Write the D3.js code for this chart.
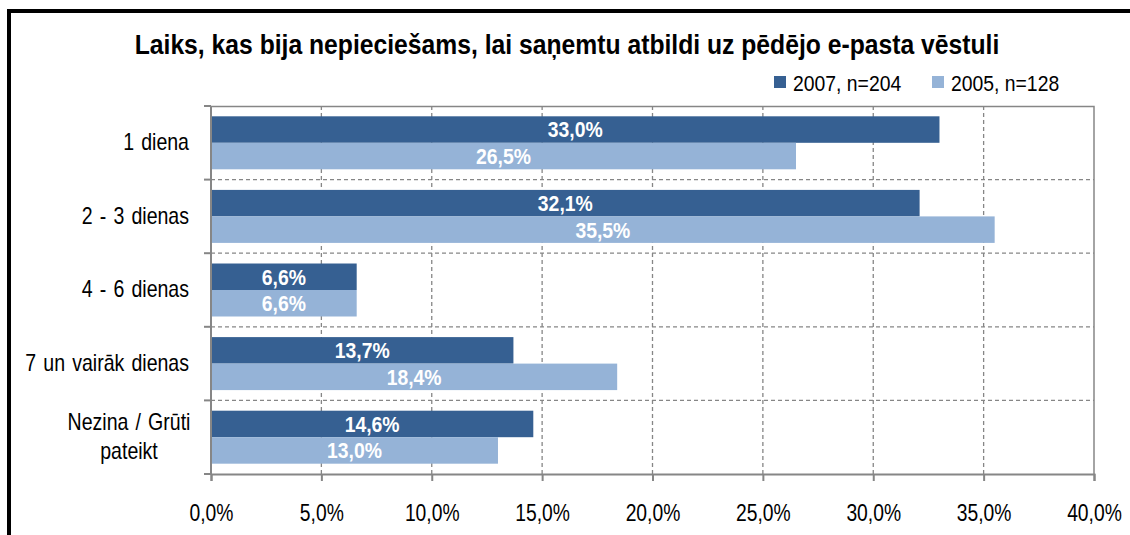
<!DOCTYPE html>
<meta charset="utf-8">
<script src="https://d3js.org/d3.v7.min.js"></script>
<style>
  body { margin: 0; background: #fff; }
  svg text { font-family: "Liberation Sans", Arial, sans-serif; }
</style>
<div id="chart"></div>
<script>
// data
var categories = ["1 diena", "2 - 3 dienas", "4 - 6 dienas", "7 un vairāk dienas", "Nezina / Grūti\npateikt"];
var series = ["2007, n=204", "2005, n=128"];
var values2007 = [33.0, 32.1, 6.6, 13.7, 14.6];
var values2005 = [26.5, 35.5, 6.6, 18.4, 13.0];
var xTicks = [0, 5, 10, 15, 20, 25, 30, 35, 40];
var colors = ["#366092", "#95B3D7"];

var W = 1130, H = 535;
var margin = {top: 106, left: 211, right: 36, bottom: 61};
var width = W - margin.left - margin.right,
    height = H - margin.top - margin.bottom;

// no narrow font installed, so squeeze text sideways around its anchor
function squeeze(sel, sx) {
  sel.each(function() {
    var ax = +d3.select(this).attr("x") || 0;
    d3.select(this).attr("transform", "matrix(" + sx + ",0,0,1," + ((1 - sx) * ax) + ",0)");
  });
}

var svg = d3.select("#chart").append("svg")
  .attr("width", W).attr("height", H);

// outer frame (runs off the right and bottom edge)
svg.append("rect")
  .attr("x", 9).attr("y", 11)
  .attr("width", W + 20).attr("height", H + 20)
  .attr("fill", "none").attr("stroke", "#000").attr("stroke-width", 4);

var title = svg.append("text")
  .attr("x", 567).attr("y", 54)
  .attr("text-anchor", "middle")
  .style("font-size", "28px").style("font-weight", "bold")
  .text("Laiks, kas bija nepieciešams, lai saņemtu atbildi uz pēdējo e-pasta vēstuli");
squeeze(title, 865 / title.node().getComputedTextLength());

var g = svg.append("g").attr("transform", "translate(" + margin.left + "," + margin.top + ")");

var x = d3.scaleLinear().domain([0, 40]).range([0, width]);
var y = d3.scaleBand().domain(categories).range([0, height]).paddingInner(0.28).paddingOuter(0.14);
var ySub = d3.scaleBand().domain(series).range([0, y.bandwidth()]);

var step = y.step();
var bounds = d3.range(categories.length + 1).map(function(i) { return i * step; });

// dashed grid
g.selectAll(".vgrid").data(xTicks.slice(1, -1)).enter().append("line")
  .attr("x1", d => x(d)).attr("x2", d => x(d))
  .attr("y1", 0).attr("y2", height)
  .attr("stroke", "#868686").attr("stroke-width", 1.3).attr("stroke-dasharray", "4,3");
g.selectAll(".hgrid").data(bounds.slice(1, -1)).enter().append("line")
  .attr("x1", 0).attr("x2", width)
  .attr("y1", d => d).attr("y2", d => d)
  .attr("stroke", "#868686").attr("stroke-width", 1.3).attr("stroke-dasharray", "4,3");

// plot border top / right
g.append("path")
  .attr("d", "M0,0.5H" + width + "V" + height)
  .attr("fill", "none").attr("stroke", "#868686").attr("stroke-width", 1.5);

// bars
var rows = categories.map(function(c, i) {
  return [{cat: c, s: series[0], v: values2007[i], col: colors[0]},
          {cat: c, s: series[1], v: values2005[i], col: colors[1]}];
});
var bars = g.selectAll(".row").data(rows).enter().append("g")
  .attr("transform", d => "translate(0," + y(d[0].cat) + ")");
bars.selectAll("rect").data(d => d).enter().append("rect")
  .attr("x", 0).attr("y", d => ySub(d.s))
  .attr("width", d => x(d.v)).attr("height", ySub.bandwidth())
  .attr("fill", d => d.col);
var vlab = bars.selectAll("text").data(d => d).enter().append("text")
  .attr("x", d => x(d.v) / 2)
  .attr("y", d => ySub(d.s) + ySub.bandwidth() / 2)
  .attr("dy", "0.36em")
  .attr("text-anchor", "middle")
  .attr("fill", "#fff")
  .style("font-size", "22px").style("font-weight", "bold")
  .text(d => d.v.toFixed(1).replace(".", ",") + "%");
squeeze(vlab, 0.88);

// y axis
g.append("line").attr("x1", 0).attr("x2", 0).attr("y1", 0).attr("y2", height)
  .attr("stroke", "#868686").attr("stroke-width", 2);
g.selectAll(".ytick").data(bounds).enter().append("line")
  .attr("x1", -7).attr("x2", 0).attr("y1", d => d).attr("y2", d => d)
  .attr("stroke", "#868686").attr("stroke-width", 2);

var ylab = g.selectAll(".ylab").data(categories).enter().append("g")
  .attr("transform", function(d) {
    var multi = d.indexOf("\n") >= 0;
    return "translate(" + (multi ? 129 - margin.left : -22) + "," + (y(d) + y.bandwidth() / 2 - 1) + ")";
  });
ylab.each(function(d) {
  var lines = d.split("\n");
  var t = d3.select(this).append("text")
    .attr("x", 0)
    .attr("text-anchor", lines.length > 1 ? "middle" : "end")
    .style("font-size", "23px").style("word-spacing", "2px").attr("fill", "#000");
  lines.forEach(function(l, i) {
    t.append("tspan").attr("x", 0)
      .attr("dy", i == 0 ? (0.36 - (lines.length - 1) * 0.65) + "em" : "1.3em")
      .text(l);
  });
  squeeze(t, 0.85);
});

// x axis
var xAxis = g.append("g").attr("transform", "translate(0," + height + ")")
  .call(d3.axisBottom(x).tickValues(xTicks).tickSize(7).tickPadding(24)
    .tickFormat(d => d.toFixed(1).replace(".", ",") + "%"));
xAxis.select(".domain").attr("stroke", "#868686").attr("stroke-width", 2);
xAxis.selectAll(".tick line").attr("stroke", "#868686").attr("stroke-width", 2);
var xt = xAxis.selectAll("text").style("font-size", "23px").attr("fill", "#000")
  .style("font-family", "'Liberation Sans', Arial, sans-serif");
squeeze(xt, 0.84);

// legend
var leg = svg.append("g").attr("transform", "translate(774,76)");
var lx = [0, 158];
series.forEach(function(s, i) {
  leg.append("rect").attr("x", lx[i]).attr("y", 0).attr("width", 12).attr("height", 12).attr("fill", colors[i]);
  var t = leg.append("text").attr("x", lx[i] + 19).attr("y", 15)
    .style("font-size", "22px").text(s);
  squeeze(t, 0.88);
});
</script>
